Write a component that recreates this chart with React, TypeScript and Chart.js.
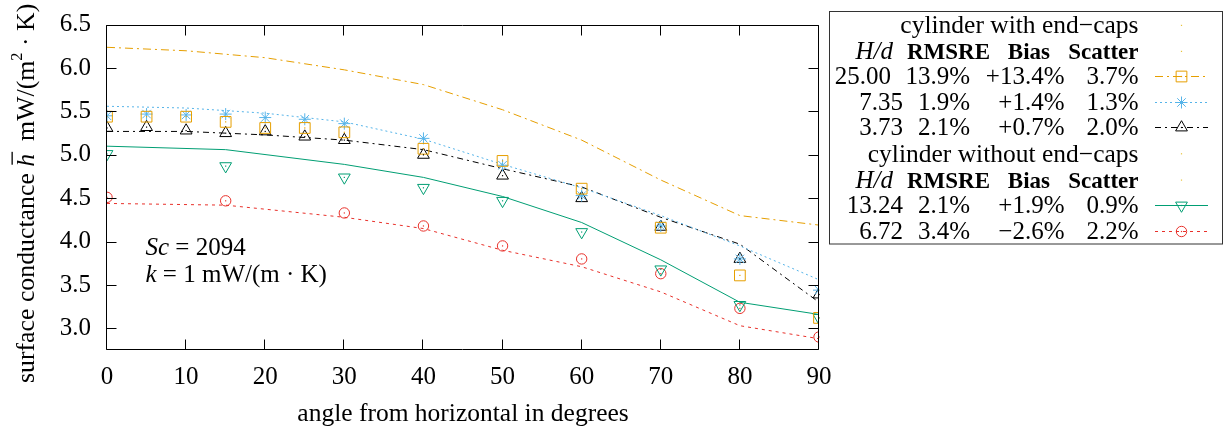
import React, { useEffect, useRef } from 'react';
import { Chart, registerables } from 'chart.js';

Chart.register(...registerables);

const SERIF = "'Liberation Serif','Times New Roman',Times,serif";

// ---- data ----
const anglesWithCaps = [0, 5, 10, 15, 20, 25, 30, 40, 50, 60, 70, 80, 90];
const anglesWithoutCaps = [0, 15, 30, 40, 50, 60, 70, 80, 90];
const modelAnglesWithCaps = [0, 10, 20, 30, 40, 50, 60, 70, 80, 90];

const measured2500 = [5.44, 5.44, 5.44, 5.38, 5.31, 5.31, 5.26, 5.07, 4.93, 4.61, 4.16, 3.61, 3.12];
const measured735 = [5.45, 5.47, 5.46, 5.47, 5.43, 5.41, 5.36, 5.19, 4.88, 4.53, 4.18, 3.8, 3.44];
const measured373 = [5.31, 5.32, 5.28, 5.25, 5.27, 5.21, 5.17, 5.0, 4.76, 4.5, 4.17, 3.8, 3.39];
const measured1324 = [5.01, 4.87, 4.74, 4.62, 4.47, 4.11, 3.68, 3.27, 3.12];
const measured672 = [4.51, 4.47, 4.33, 4.18, 3.95, 3.8, 3.63, 3.23, 2.9];

const model2500 = [6.24, 6.2, 6.12, 5.98, 5.81, 5.52, 5.17, 4.71, 4.3, 4.19];
const model735 = [5.56, 5.54, 5.48, 5.38, 5.18, 4.89, 4.62, 4.3, 3.95, 3.56];
const model373 = [5.27, 5.27, 5.23, 5.17, 5.06, 4.84, 4.63, 4.28, 3.97, 3.3];
const model1324 = [5.1, 5.06, 4.89, 4.74, 4.52, 4.22, 3.79, 3.3, 3.16];
const model672 = [4.44, 4.42, 4.28, 4.15, 3.9, 3.71, 3.42, 3.03, 2.88];

const xTickValues = [0, 10, 20, 30, 40, 50, 60, 70, 80, 90];
const yTickValues = [3.0, 3.5, 4.0, 4.5, 5.0, 5.5, 6.0, 6.5];

const legendGroupTitles = ['cylinder with end\u2212caps', 'cylinder without end\u2212caps'];
const legendColumnHeads = ['RMSRE', 'Bias', 'Scatter'];
const legendHd = ['25.00', '7.35', '3.73', '13.24', '6.72'];
const legendRmsre = ['13.9%', '1.9%', '2.1%', '2.1%', '3.4%'];
const legendBias = ['+13.4%', '+1.4%', '+0.7%', '+1.9%', '\u22122.6%'];
const legendScatter = ['3.7%', '1.3%', '2.0%', '0.9%', '2.2%'];

const xTitle = 'angle from horizontal in degrees';
const annotationSc = '2094';
const annotationK = '1 mW/(m \u00B7 K)';

type SeriesStyle = {
  color: string;
  dash: number[];
  pointStyle: string;
  rotation: number;
  radius: number;
};

const styles: SeriesStyle[] = [
  { color: '#E69F00', dash: [8, 4, 2, 4], pointStyle: 'rect', rotation: 0, radius: 7.6 },
  { color: '#56B4E9', dash: [2, 3], pointStyle: 'star', rotation: 0, radius: 6 },
  { color: '#000000', dash: [6, 4, 2, 4], pointStyle: 'triangle', rotation: 0, radius: 6.8 },
  { color: '#009E73', dash: [], pointStyle: 'triangle', rotation: 180, radius: 6.8 },
  { color: '#E8302A', dash: [3, 4], pointStyle: 'circle', rotation: 0, radius: 5.2 },
];

const toPts = (xs: number[], ys: number[]) => xs.map((x, i) => ({ x, y: ys[i] }));

function drawMarker(ctx: CanvasRenderingContext2D, s: SeriesStyle, x: number, y: number) {
  const r = s.radius;
  ctx.save();
  ctx.strokeStyle = s.color;
  ctx.lineWidth = 1;
  ctx.setLineDash([]);
  ctx.beginPath();
  if (s.pointStyle === 'rect') {
    const h = r * Math.SQRT1_2;
    ctx.rect(x - h, y - h, 2 * h, 2 * h);
  } else if (s.pointStyle === 'star') {
    for (let k = 0; k < 4; k++) {
      const a = (k * Math.PI) / 4;
      ctx.moveTo(x - Math.cos(a) * r, y - Math.sin(a) * r);
      ctx.lineTo(x + Math.cos(a) * r, y + Math.sin(a) * r);
    }
  } else if (s.pointStyle === 'triangle') {
    let a = (s.rotation * Math.PI) / 180;
    ctx.moveTo(x + Math.sin(a) * r, y - Math.cos(a) * r);
    a += (2 * Math.PI) / 3;
    ctx.lineTo(x + Math.sin(a) * r, y - Math.cos(a) * r);
    a += (2 * Math.PI) / 3;
    ctx.lineTo(x + Math.sin(a) * r, y - Math.cos(a) * r);
    ctx.closePath();
  } else {
    ctx.arc(x, y, r, 0, Math.PI * 2);
  }
  ctx.stroke();
  ctx.fillStyle = s.color;
  ctx.fillRect(x - 0.6, y - 0.6, 1.2, 1.2);
  ctx.restore();
}

const framePlugin = {
  id: 'gnuFrame',
  afterDraw(chart: any) {
    const { ctx, chartArea } = chart;
    const { left, right, top, bottom } = chartArea;
    const xs = chart.scales.x;
    const ys = chart.scales.y;
    ctx.save();
    ctx.strokeStyle = '#000';
    ctx.lineWidth = 1;
    ctx.setLineDash([]);
    ctx.beginPath();
    const L = Math.round(left) - 0.5;
    const R = Math.round(right) - 0.5;
    const T = Math.round(top) + 0.5;
    const B = Math.round(bottom) - 0.5;
    ctx.rect(L, T, R - L, B - T);
    const tl = 10;
    xTickValues.forEach((v) => {
      const px = Math.round(xs.getPixelForValue(v)) - 0.5;
      ctx.moveTo(px, B);
      ctx.lineTo(px, B - tl);
      ctx.moveTo(px, T);
      ctx.lineTo(px, T + tl);
    });
    yTickValues.forEach((v) => {
      const py = Math.round(ys.getPixelForValue(v)) + 0.5;
      ctx.moveTo(L, py);
      ctx.lineTo(L + tl, py);
      ctx.moveTo(R, py);
      ctx.lineTo(R - tl, py);
    });
    ctx.stroke();
    ctx.restore();
  },
};

const dotsPlugin = {
  id: 'centerDots',
  afterDatasetsDraw(chart: any) {
    const { ctx } = chart;
    ctx.save();
    chart.data.datasets.forEach((ds: any, i: number) => {
      if (ds.showLine) return;
      const meta = chart.getDatasetMeta(i);
      ctx.fillStyle = ds.borderColor;
      meta.data.forEach((pt: any) => {
        ctx.fillRect(pt.x - 0.6, pt.y - 0.6, 1.2, 1.2);
      });
    });
    ctx.restore();
  },
};

const textPlugin = {
  id: 'texts',
  afterDraw(chart: any) {
    const { ctx, chartArea } = chart;
    ctx.save();
    ctx.fillStyle = '#000';
    ctx.textBaseline = 'alphabetic';
    const reg = `25px ${SERIF}`;
    const ita = `italic 25px ${SERIF}`;
    const bold = `bold 23px ${SERIF}`;

    // x title
    ctx.font = `25.5px ${SERIF}`;
    ctx.textAlign = 'center';
    ctx.fillText(xTitle, (chartArea.left + chartArea.right) / 2, 421);

    // y title (rotated)
    ctx.save();
    ctx.translate(33.5, 383);
    ctx.rotate(-Math.PI / 2);
    ctx.textAlign = 'left';
    let cx = 0;
    const yReg = `25.8px ${SERIF}`;
    const yIta = `italic 25.8px ${SERIF}`;
    const seg = (t: string, f: string, dy = 0) => {
      ctx.font = f;
      ctx.fillText(t, cx, dy);
      const w = ctx.measureText(t).width;
      cx += w;
      return w;
    };
    seg('surface conductance ', yReg);
    const hx = cx;
    const hw = seg('h', yIta);
    ctx.fillRect(hx + 2, -22, hw, 1.3);
    seg('  mW/(m', yReg);
    seg('2', `16.5px ${SERIF}`, -11.5);
    seg(' \u00B7 K)', yReg);
    ctx.restore();

    // annotation
    ctx.textAlign = 'left';
    const segAt = (x0: number, y0: number, parts: [string, string][]) => {
      let x = x0;
      parts.forEach(([t, f]) => {
        ctx.font = f;
        ctx.fillText(t, x, y0);
        x += ctx.measureText(t).width;
      });
    };
    segAt(145.5, 255, [['Sc', ita], [' = ' + annotationSc, reg]]);
    segAt(145.5, 281.5, [['k', ita], [' = ' + annotationK, reg]]);

    // legend box
    ctx.strokeStyle = '#333';
    ctx.lineWidth = 1;
    ctx.strokeRect(829.5, 11.5, 393, 232.5);

    const baselines = [33.3, 59.3, 84.2, 109.5, 135, 161.7, 188, 213.3, 239];
    const headRight = [893, 990, 1050, 1138.5];
    const valRight = [903, 970, 1064.5, 1138.5];
    const sampleL = 1155;
    const sampleR = 1208;
    const sampleX = 1181.5;

    const header = (row: number, group: number) => {
      ctx.textAlign = 'right';
      ctx.font = `25.5px ${SERIF}`;
      ctx.fillText(legendGroupTitles[group], headRight[3], baselines[row]);
      ctx.font = ita;
      ctx.fillText('H/d', headRight[0], baselines[row + 1]);
      ctx.font = bold;
      legendColumnHeads.forEach((h, k) => ctx.fillText(h, headRight[k + 1], baselines[row + 1]));
      ctx.fillStyle = '#E8C33A';
      ctx.fillRect(sampleX - 0.6, baselines[row] - 8.5, 1.2, 1.2);
      ctx.fillRect(sampleX - 0.6, baselines[row + 1] - 8.5, 1.2, 1.2);
      ctx.fillStyle = '#000';
    };
    const dataRow = (row: number, si: number) => {
      const b = baselines[row];
      ctx.textAlign = 'right';
      ctx.font = reg;
      ctx.fillStyle = '#000';
      ctx.fillText(legendHd[si], si === 0 ? 891 : valRight[0], b);
      ctx.fillText(legendRmsre[si], valRight[1], b);
      ctx.fillText(legendBias[si], valRight[2], b);
      ctx.fillText(legendScatter[si], valRight[3], b);
      const s = styles[si];
      const yy = Math.round(b - 8) + 0.5;
      ctx.save();
      ctx.strokeStyle = s.color;
      ctx.lineWidth = 1;
      ctx.setLineDash(s.dash);
      ctx.beginPath();
      ctx.moveTo(sampleL, yy);
      ctx.lineTo(sampleR, yy);
      ctx.stroke();
      ctx.restore();
      drawMarker(ctx, s, sampleX, yy);
    };
    header(0, 0);
    dataRow(2, 0);
    dataRow(3, 1);
    dataRow(4, 2);
    header(5, 1);
    dataRow(7, 3);
    dataRow(8, 4);
    ctx.restore();
  },
};

export default function App() {
  const canvasRef = useRef<HTMLCanvasElement | null>(null);

  useEffect(() => {
    document.body.style.margin = '0';
    const canvas = canvasRef.current;
    if (!canvas) return;

    const markerSets = [
      toPts(anglesWithCaps, measured2500),
      toPts(anglesWithCaps, measured735),
      toPts(anglesWithCaps, measured373),
      toPts(anglesWithoutCaps, measured1324),
      toPts(anglesWithoutCaps, measured672),
    ];
    const modelSets = [
      toPts(modelAnglesWithCaps, model2500),
      toPts(modelAnglesWithCaps, model735),
      toPts(modelAnglesWithCaps, model373),
      toPts(anglesWithoutCaps, model1324),
      toPts(anglesWithoutCaps, model672),
    ];

    const datasets: any[] = [];
    styles.forEach((s, i) => {
      datasets.push({
        label: 'model ' + legendHd[i],
        data: modelSets[i],
        showLine: true,
        borderColor: s.color,
        borderWidth: 1,
        borderDash: s.dash,
        pointRadius: 0,
        fill: false,
        tension: 0,
      });
      datasets.push({
        label: legendHd[i],
        data: markerSets[i],
        showLine: false,
        borderColor: s.color,
        backgroundColor: 'rgba(0,0,0,0)',
        pointStyle: s.pointStyle,
        pointRotation: s.rotation,
        pointRadius: s.radius,
        pointBorderWidth: 1,
        pointBackgroundColor: 'rgba(0,0,0,0)',
        pointBorderColor: s.color,
      });
    });

    const chart = new Chart(canvas, {
      type: 'scatter',
      data: { datasets },
      options: {
        responsive: false,
        animation: false,
        devicePixelRatio: 1,
        layout: { padding: { left: 0, right: 1232 - 819, top: 11, bottom: 0 } },
        plugins: {
          legend: { display: false },
          tooltip: { enabled: false },
          title: { display: false },
        },
        scales: {
          x: {
            type: 'linear',
            min: 0,
            max: 90,
            afterBuildTicks: (s: any) => {
              s.ticks = xTickValues.map((v) => ({ value: v }));
            },
            afterFit: (s: any) => {
              s.height = 85;
            },
            grid: { display: false, drawTicks: false },
            border: { display: false },
            ticks: {
              color: '#000',
              font: { family: SERIF, size: 25, lineHeight: 1 },
              padding: 15,
              maxRotation: 0,
              autoSkip: false,
              callback: (v: any) => String(v),
            },
          },
          y: {
            type: 'linear',
            min: 2.75,
            max: 6.5,
            afterBuildTicks: (s: any) => {
              s.ticks = yTickValues.map((v) => ({ value: v }));
            },
            afterFit: (s: any) => {
              s.width = 107;
            },
            grid: { display: false, drawTicks: false },
            border: { display: false },
            ticks: {
              color: '#000',
              font: { family: SERIF, size: 25, lineHeight: 0.7 },
              padding: 16,
              autoSkip: false,
              callback: (v: any) => Number(v).toFixed(1),
            },
          },
        },
      } as any,
      plugins: [framePlugin, dotsPlugin, textPlugin],
    });
    return () => chart.destroy();
  }, []);

  return (
    <div style={{ width: 1232, height: 435, position: 'relative', background: '#fff' }}>
      <canvas ref={canvasRef} width={1232} height={435} style={{ display: 'block' }} />
    </div>
  );
}
